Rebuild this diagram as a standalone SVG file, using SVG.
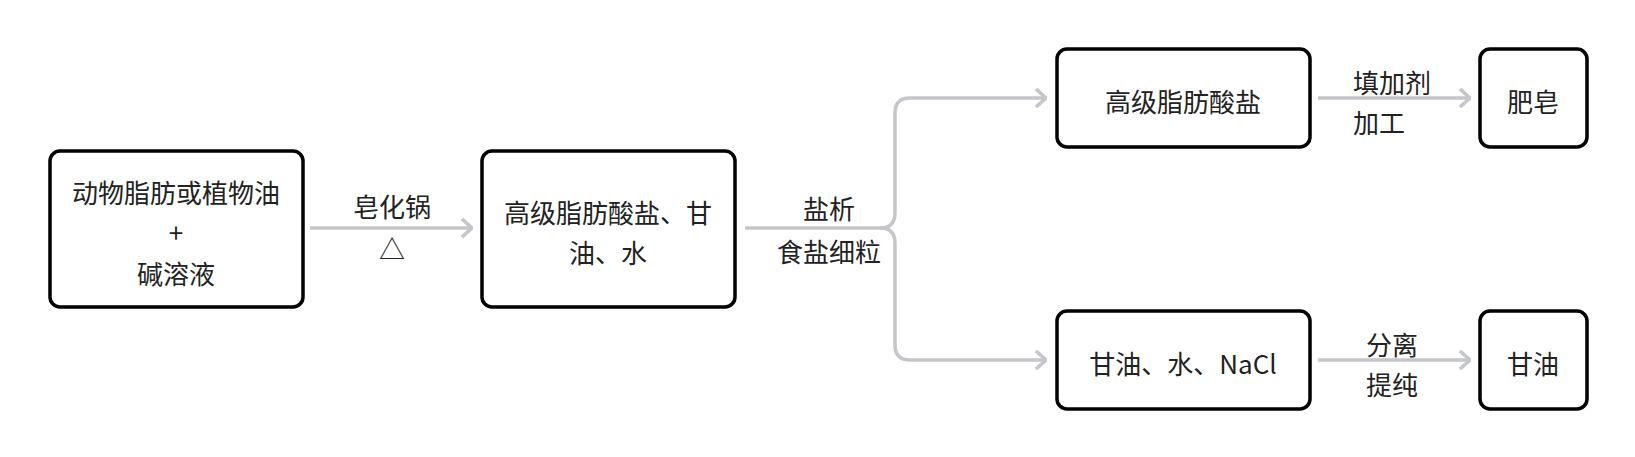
<svg xmlns="http://www.w3.org/2000/svg" width="1635" height="457" viewBox="0 0 1635 457">
<style>
.n{fill:#fff;stroke:#000;stroke-width:3.5}
text{font-family:"Noto Sans CJK SC","Noto Sans",sans-serif;font-size:26px;fill:#222;text-anchor:middle;dominant-baseline:central}
.c{fill:none;stroke:#c4c6ca;stroke-width:3.5}
.l{text-anchor:start}
</style>
<defs><marker id="a" viewBox="0 0 12 20" refX="11" refY="10" markerWidth="12" markerHeight="20" markerUnits="userSpaceOnUse" orient="auto"><path d="M1,1 L11,10 L1,19" fill="none" stroke="#c4c6ca" stroke-width="3.5"/></marker></defs>
<rect width="1635" height="457" fill="#fff"/>
<g id="connectors">
<path class="c" d="M310,228 H472" marker-end="url(#a)"/>
<path class="c" d="M745,228 H880 Q895,228 895,213 V113 Q895,98 910,98 H1046" marker-end="url(#a)"/>
<path class="c" d="M880,228 Q895,228 895,243 V345 Q895,360 910,360 H1046" marker-end="url(#a)"/>
<path class="c" d="M1318,98 H1470" marker-end="url(#a)"/>
<path class="c" d="M1318,360 H1470" marker-end="url(#a)"/>
<text x="392" y="205">皂化锅</text><text x="392" y="247">△</text>
<text x="829" y="207">盐析</text><text x="829" y="250">食盐细粒</text>
<text class="l" x="1353" y="81">填加剂</text><text class="l" x="1353" y="121">加工</text>
<text x="1392" y="343">分离</text><text x="1392" y="383">提纯</text>
</g>
<g id="n1"><rect class="n" x="50" y="151" width="253" height="156" rx="10"/><text x="176" y="191">动物脂肪或植物油</text><text x="176" y="231">+</text><text x="176" y="272">碱溶液</text></g>
<g id="n2"><rect class="n" x="482" y="151" width="253" height="156" rx="10"/><text x="608" y="211">高级脂肪酸盐、甘</text><text x="608" y="251">油、水</text></g>
<g id="n3"><rect class="n" x="1057" y="49" width="253" height="98" rx="10"/><text x="1183" y="100">高级脂肪酸盐</text></g>
<g id="n4"><rect class="n" x="1057" y="311" width="253" height="98" rx="10"/><text x="1183" y="362">甘油、水、NaCl</text></g>
<g id="n5"><rect class="n" x="1480" y="49" width="107" height="98" rx="10"/><text x="1533" y="100">肥皂</text></g>
<g id="n6"><rect class="n" x="1480" y="311" width="107" height="98" rx="10"/><text x="1533" y="362">甘油</text></g>
</svg>
